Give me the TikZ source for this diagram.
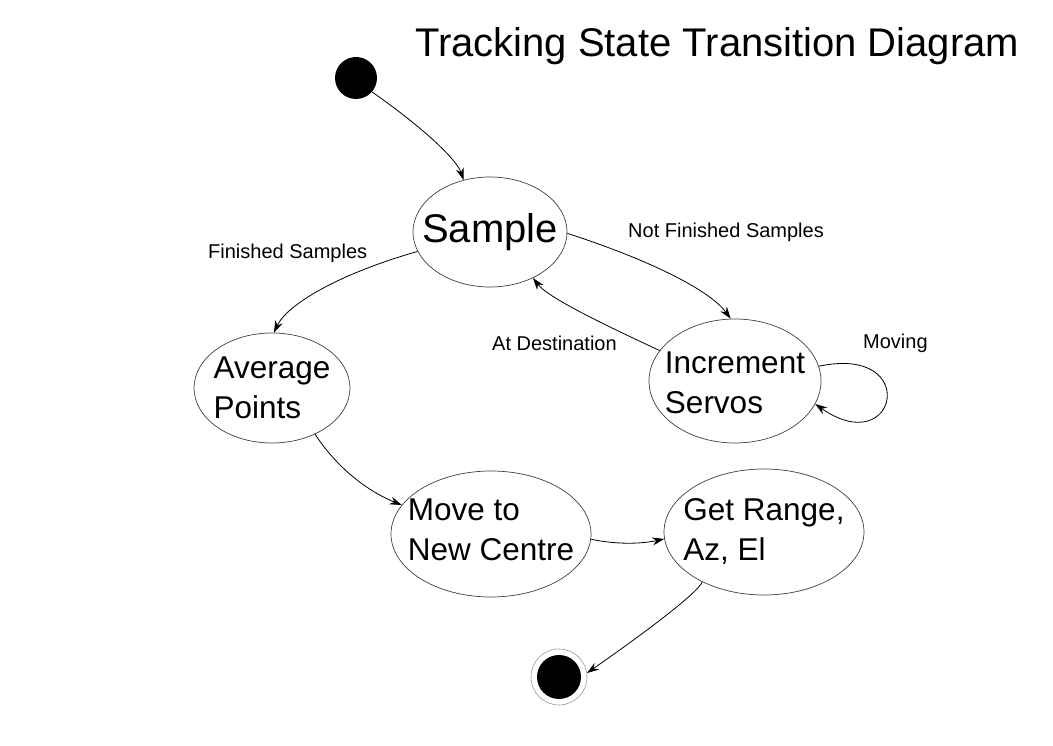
\documentclass[tikz,border=0pt]{standalone}
\usepackage{fontspec}
\setmainfont{Liberation Sans}
\usetikzlibrary{shapes.geometric,arrows.meta}
\begin{document}
\begin{tikzpicture}[x=1pt, y=1pt,
  state/.style={ellipse, draw=black!75, line width=0.7pt, inner sep=0pt},
  txt/.style={align=left, inner sep=0pt, font=\fontsize{31.5}{40}\selectfont},
  blob/.style={circle, fill=black, inner sep=0pt, minimum size=#1},
  lbl/.style={anchor=base west, inner sep=0pt, font=\fontsize{20}{24}\selectfont},
  tr/.style={-{Stealth[length=12pt,width=8pt,inset=4pt]}, line width=0.8pt}]
\path[use as bounding box, fill=white] (0, 0) rectangle (1053, 745);

\node[anchor=base west, inner sep=0pt, font=\fontsize{40}{48}\selectfont] (Title) at (415, 688) {Tracking State Transition Diagram};

\node[blob=42pt] (Start) at (356, 667) {};
\node[state, minimum width=154pt, minimum height=110pt, label={[txt, font=\fontsize{40}{48}\selectfont]center:Sample}] (Sample) at (490, 513) {};
\node[state, minimum width=156pt, minimum height=110pt, label={[txt]center:Average\\Points}] (Avg) at (272, 357) {};
\node[state, minimum width=172pt, minimum height=124pt, label={[txt, yshift=-2pt]center:Increment\\Servos}] (Inc) at (735, 364) {};
\node[state, minimum width=200pt, minimum height=126pt, label={[txt, yshift=4pt]center:Move to\\New Centre}] (Move) at (491, 211) {};
\node[state, minimum width=200pt, minimum height=126pt, label={[txt]center:Get Range,\\Az, El}] (Get) at (764, 213) {};
\node[circle, draw=black!40, line width=0.6pt, minimum size=56pt, inner sep=0pt] (End) at (559, 68) {};
\node[blob=44pt] (EndDot) at (End) {};

\node[lbl] (Fin) at (208, 486) {Finished Samples};
\node[lbl] (NotFin) at (628, 507) {Not Finished Samples};
\node[lbl] (AtDest) at (492, 394) {At Destination};
\node[lbl] (Moving) at (863, 396) {Moving};

\draw[tr] (Start.-41) .. controls +(-35:64) and +(108:21) .. (Sample.117);
\draw[tr] (Sample.195) .. controls +(196:83) and +(65:31) .. (Avg.88);
\draw[tr] (Sample.-1) .. controls +(-18:94) and +(126:33) .. (Inc.94);
\draw[tr] (Inc.158) .. controls +(155:65) and +(-52:25) .. (Sample.-47);
\draw[tr] (Inc.10) .. controls +(12:105) and +(-35:100) .. (Inc.-16);
\draw[tr] (Avg.-47) .. controls +(-57:37) and +(158:40) .. (Move.162);
\draw[tr] (Move.-3) .. controls +(-12:25) and +(192:25) .. (Get.184);
\draw[tr] (Get.-141) .. controls +(-115:11) and +(35:88) .. (End.8);
\end{tikzpicture}
\end{document}
